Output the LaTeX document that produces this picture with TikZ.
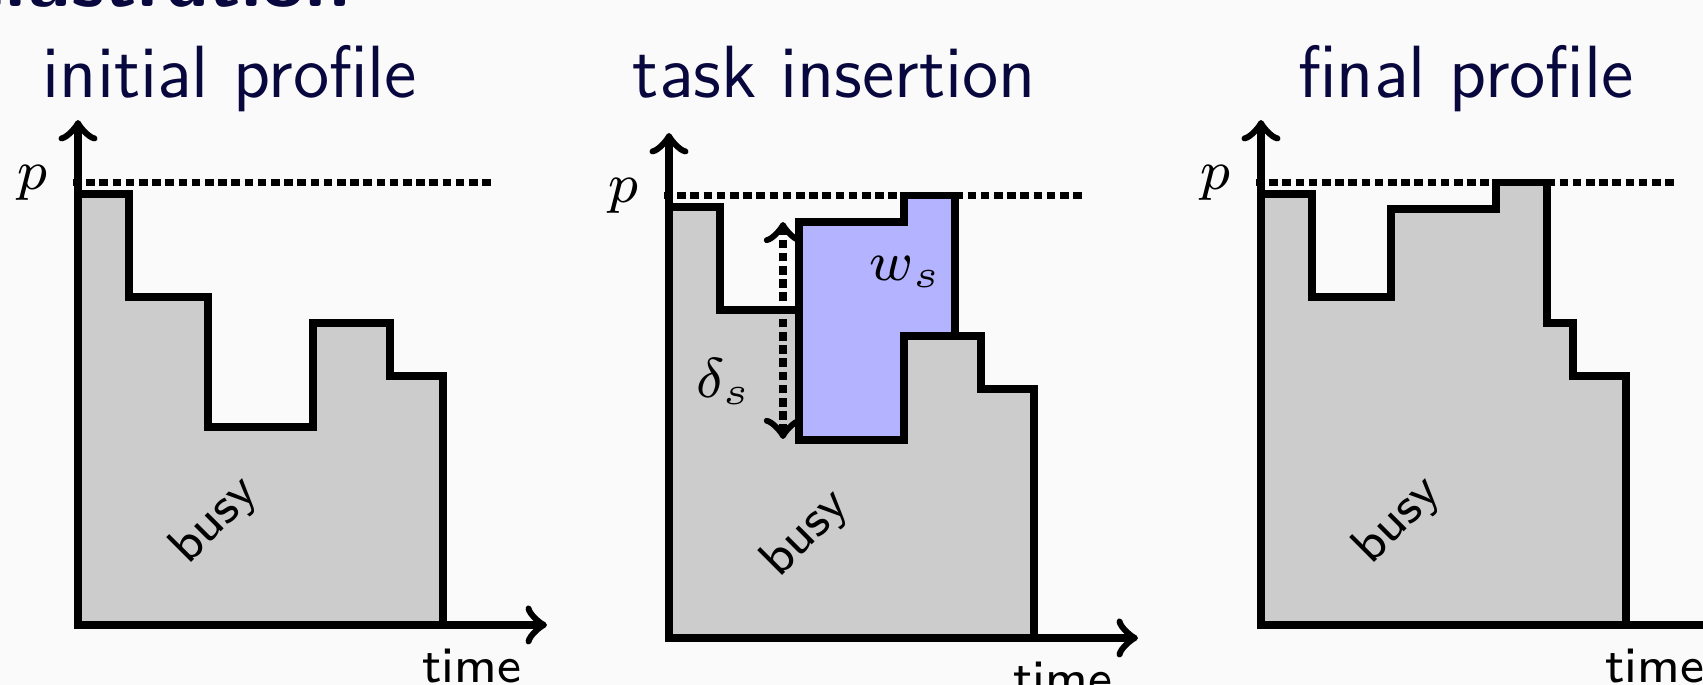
\RequirePackage{fix-cm}
\documentclass[tikz,border=0pt]{standalone}
\usepackage{fontspec}
\definecolor{bgc}{RGB}{250,250,250}
\definecolor{busyc}{RGB}{204,204,204}
\definecolor{taskc}{RGB}{179,179,255}
\definecolor{titlec}{RGB}{8,8,62}
\tikzset{
  prof/.style={fill=busyc, draw=black, line width=1.125pt, line join=miter},
  taskbox/.style={fill=taskc, draw=black, line width=1.125pt, line join=miter},
  axis/.style={line width=1.125pt, <->},
  dotline/.style={line width=1.1pt, dash pattern=on 1.3pt off 0.68pt},
  ptitle/.style={font=\fontsize{11.1}{13}\sffamily, text=titlec, anchor=base, inner sep=0pt},
  small/.style={font=\fontsize{7.6}{9}\sffamily, inner sep=0pt},
  mlab/.style={font=\fontsize{8.4}{10}\selectfont, inner sep=0pt},
}
\begin{document}
\begin{tikzpicture}[x=0.15pt,y=0.15pt]
\useasboundingbox (0,0) rectangle (1703,685);
\fill[bgc] (0,0) rectangle (1703,685);
\clip (0,0) rectangle (1703,685);
\node[font=\fontsize{12}{15}\bfseries\sffamily, text=titlec, anchor=base east, inner sep=0pt] (frametitle) at (352,678) {Illustration};
\node[ptitle] (t1) at (230,587) {initial profile};
\node[ptitle] (t2) at (834.5,587) {task insertion};
\node[ptitle] (t3) at (1466,587) {final profile};
% panel 1
\begin{scope}[shift={(78,60)}]
\draw[prof] (0,0) -- (0,431) -- (51,431) -- (51,328) -- (130,328) -- (130,198) -- (235,198) -- (235,302) -- (312,302) -- (312,249) -- (365,249) -- (365,0) -- cycle;
\draw[dotline] (-5,442.5) -- (414,442.5);
\draw[axis] (0,505) -- (0,0) -- (469,0);
\node[mlab, anchor=east] (p1) at (-29,442.5) {$p$};
\node[small, rotate=45] (busy1) at (137,104) {busy};
\node[small, anchor=base] (time1) at (394,-58) {time};
\end{scope}
% panel 2
\begin{scope}[shift={(669,47)}]
\draw[prof] (0,0) -- (0,431) -- (51,431) -- (51,328) -- (130,328) -- (130,198) -- (235,198) -- (235,302) -- (312,302) -- (312,249) -- (365,249) -- (365,0) -- cycle;
\draw[taskbox] (130,198) -- (130,416) -- (235,416) -- (235,442.5) -- (286,442.5) -- (286,302) -- (235,302) -- (235,198) -- cycle;
\draw[dotline] (-5,442.5) -- (414,442.5);
\coordinate (dlo) at (114,199);
\coordinate (dhi) at (114,416);
\draw[dotline, <->] (dlo) -- (dhi);
\draw[axis] (0,505) -- (0,0) -- (469,0);
\node[mlab, anchor=east] (p2) at (-29,442.5) {$p$};
\node[mlab] (ws) at (237,366) {$w_s$};
\node[mlab] (ds) at (55,256) {$\delta_s$};
\node[small, rotate=45] (busy2) at (137,104) {busy};
\node[small, anchor=base] (time2) at (394,-58) {time};
\end{scope}
% panel 3
\begin{scope}[shift={(1261,60)}]
\draw[prof] (0,0) -- (0,431) -- (51,431) -- (51,328) -- (130,328) -- (130,416) -- (235,416) -- (235,442.5) -- (286,442.5) -- (286,302) -- (312,302) -- (312,249) -- (365,249) -- (365,0) -- cycle;
\draw[dotline] (-5,442.5) -- (414,442.5);
\draw[axis] (0,505) -- (0,0) -- (469,0);
\node[mlab, anchor=east] (p3) at (-29,442.5) {$p$};
\node[small, rotate=45] (busy3) at (137,104) {busy};
\node[small, anchor=base] (time3) at (394,-58) {time};
\end{scope}
\end{tikzpicture}
\end{document}
